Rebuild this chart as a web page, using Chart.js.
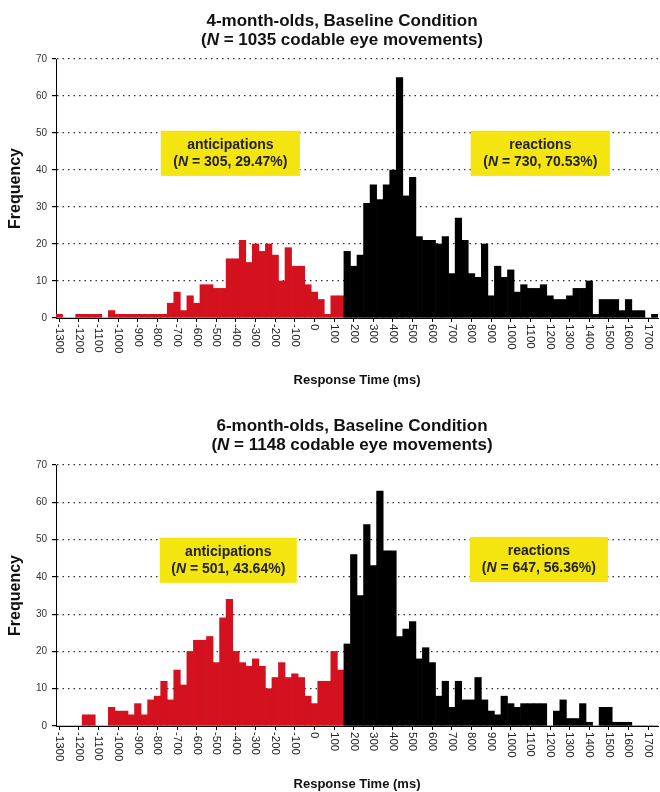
<!DOCTYPE html>
<html>
<head>
<meta charset="utf-8">
<title>Response time histograms</title>
<script src="https://cdn.jsdelivr.net/npm/chart.js@4.4.1/dist/chart.umd.min.js"></script>
<style>
  html, body { margin: 0; padding: 0; background: #fff; }
  .panel { position: relative; width: 660px; height: 396px; }
</style>
</head>
<body>
<div class="panel"><canvas id="chart4m" width="660" height="396"></canvas></div>
<div class="panel"><canvas id="chart6m" width="660" height="396"></canvas></div>
<script>
// Bins are one video frame (33.3 ms) wide, the first one centred on -1300 ms.
const binWidth = 100 / 3;
const firstBin = -1300;
const splitMs = 150; // anticipations below, reactions above

const tickLabels = [-1300, -1200, -1100, -1000, -900, -800, -700, -600, -500, -400,
    -300, -200, -100, 0, 100, 200, 300, 400, 500, 600, 700, 800, 900, 1000,
    1100, 1200, 1300, 1400, 1500, 1600, 1700];

// 4-month-olds: counts per bin, from -1300 ms up to 1733 ms
const freq4m = [
    1, 0, 0, 1, 1, 1, 1, 0, 2, 1, 1, 1, 1, 1, 1, 1, 1, 4, 7, 2,
    6, 4, 9, 9, 8, 8, 16, 16, 21, 15, 20, 18, 20, 17, 10, 19, 14, 14, 9, 7,
    5, 1, 6, 6,
    18, 14, 17, 31, 36, 32, 36, 40, 65, 33, 38, 22, 21, 21, 20, 22, 12, 27, 21, 12,
    11, 20, 6, 14, 11, 13, 7, 9, 8, 8, 9, 6, 5, 5, 6, 8, 8, 10, 1, 5,
    5, 5, 2, 5, 2, 2, 0, 1
];

// 6-month-olds: counts per bin, same bins
const freq6m = [
    0, 0, 0, 0, 3, 3, 0, 0, 5, 4, 4, 3, 6, 3, 7, 8, 12, 7, 15, 11,
    20, 23, 23, 24, 17, 29, 34, 20, 17, 16, 18, 16, 10, 13, 17, 13, 14, 13, 8, 6,
    12, 12, 20, 15,
    22, 46, 35, 54, 43, 63, 47, 47, 24, 26, 28, 18, 21, 17, 8, 12, 5, 12, 7, 7,
    13, 7, 4, 3, 8, 6, 5, 6, 6, 6, 6, 0, 4, 7, 2, 2, 6, 1, 0, 5,
    5, 1, 1, 1, 0, 0, 0, 0
];

const binCenters = freq4m.map((_, i) => firstBin + i * binWidth);

const fontFamily = '"Liberation Sans", Arial, Helvetica, sans-serif';
const redColor = '#d3111f';
const boxColor = '#f4e511';

// Draw one line of bold text where some pieces are italic, centred on cx.
function drawRich(c, parts, cx, cy, size) {
    let total = 0;
    parts.forEach(p => {
        c.font = (p.i ? 'italic ' : '') + 'bold ' + size + 'px ' + fontFamily;
        p.w = c.measureText(p.t).width;
        total += p.w;
    });
    let x = cx - total / 2;
    c.textAlign = 'left';
    c.textBaseline = 'middle';
    parts.forEach(p => {
        c.font = (p.i ? 'italic ' : '') + 'bold ' + size + 'px ' + fontFamily;
        c.fillText(p.t, x, cy);
        x += p.w;
    });
}

// Titles, rotated x tick labels and the yellow boxes.
const overlay = {
    id: 'overlay',
    afterDraw(chart, args, o) {
        const c = chart.ctx;
        const xs = chart.scales.x;
        const ys = chart.scales.y;
        c.save();

        c.fillStyle = '#222';
        c.font = '11.5px ' + fontFamily;
        c.textAlign = 'left';
        c.textBaseline = 'middle';
        tickLabels.forEach(v => {
            c.save();
            c.translate(xs.getPixelForValue(v), xs.top + 6);
            c.rotate(Math.PI / 2);
            c.fillText(String(v), 0, 0);
            c.restore();
        });

        c.fillStyle = '#111';
        drawRich(c, [{t: o.title}], o.titleX, o.titleY, 17);
        drawRich(c, [{t: '('}, {t: 'N', i: true}, {t: ' = ' + o.total + ' codable eye movements)'}],
            o.titleX, o.titleY + 19, 17);

        o.boxes.forEach(b => {
            const l = xs.getPixelForValue(b.x0);
            const r = xs.getPixelForValue(b.x1);
            const t = ys.getPixelForValue(b.y1);
            const btm = ys.getPixelForValue(b.y0);
            c.fillStyle = boxColor;
            c.fillRect(l, t, r - l, btm - t);
            const mid = (t + btm) / 2;
            c.fillStyle = '#222';
            drawRich(c, [{t: b.label}], (l + r) / 2, mid - 8.5, 14);
            drawRich(c, [{t: '('}, {t: 'N', i: true}, {t: ' = ' + b.n + ', ' + b.pct + ')'}],
                (l + r) / 2, mid + 8.5, 14);
        });
        c.restore();
    }
};

function makeChart(canvasId, counts, opts) {
    const ctx = document.getElementById(canvasId).getContext('2d');
    return new Chart(ctx, {
        type: 'bar',
        data: {
            datasets: [{
                data: binCenters.map((x, i) => ({x: x, y: counts[i]})),
                backgroundColor: binCenters.map(x => x < splitMs ? redColor : '#000'),
                borderWidth: 0,
                barPercentage: 1,
                categoryPercentage: 1
            }]
        },
        options: {
            responsive: false,
            animation: false,
            layout: {padding: {top: opts.plotTop, right: 2, left: 0, bottom: 0}},
            plugins: {
                legend: {display: false},
                tooltip: {enabled: false},
                overlay: opts.overlay
            },
            scales: {
                x: {
                    type: 'linear',
                    offset: false,
                    min: firstBin - binWidth / 2,
                    max: 1750,
                    afterBuildTicks: s => { s.ticks = tickLabels.map(v => ({value: v})); },
                    afterFit: s => { s.height = opts.xAxisHeight; },
                    ticks: {display: false},
                    grid: {offset: false, drawOnChartArea: false, drawTicks: true, tickLength: 4, color: '#000', lineWidth: 1},
                    border: {display: true, color: '#000', width: 1},
                    title: {
                        display: true,
                        text: 'Response Time (ms)',
                        color: '#111',
                        font: {family: fontFamily, size: 13, weight: 'bold'},
                        padding: {top: 0, bottom: opts.xTitlePad}
                    }
                },
                y: {
                    min: 0,
                    max: 70,
                    afterFit: s => { s.width = 56; },
                    ticks: {stepSize: 10, color: '#333', padding: 5, font: {family: fontFamily, size: 10}},
                    grid: {
                        color: c => c.tick && c.tick.value === 0 ? 'rgba(0,0,0,0)' : '#333',
                        tickColor: '#000',
                        tickLength: 4,
                        lineWidth: 1.2
                    },
                    border: {display: true, color: '#000', width: 1, dash: [1.5, 4]},
                    title: {
                        display: true,
                        text: 'Frequency',
                        color: '#111',
                        font: {family: fontFamily, size: 16, weight: 'bold'},
                        padding: {top: 6, bottom: 0}
                    }
                }
            }
        },
        plugins: [overlay]
    });
}

makeChart('chart4m', freq4m, {
    plotTop: 59,
    xAxisHeight: 78,
    xTitlePad: 8,
    overlay: {
        title: '4-month-olds, Baseline Condition',
        total: 1035,
        titleX: 342,
        titleY: 21,
        boxes: [
            {x0: -783, x1: -74, y0: 38.4, y1: 50.6, label: 'anticipations', n: 305, pct: '29.47%'},
            {x0: 796, x1: 1505, y0: 38.4, y1: 50.6, label: 'reactions', n: 730, pct: '70.53%'}
        ]
    }
});

makeChart('chart6m', freq6m, {
    plotTop: 69,
    xAxisHeight: 66,
    xTitlePad: 0,
    overlay: {
        title: '6-month-olds, Baseline Condition',
        total: 1148,
        titleX: 352,
        titleY: 30,
        boxes: [
            {x0: -788, x1: -90, y0: 38.4, y1: 50.5, label: 'anticipations', n: 501, pct: '43.64%'},
            {x0: 791, x1: 1495, y0: 38.6, y1: 50.7, label: 'reactions', n: 647, pct: '56.36%'}
        ]
    }
});
</script>
</body>
</html>
